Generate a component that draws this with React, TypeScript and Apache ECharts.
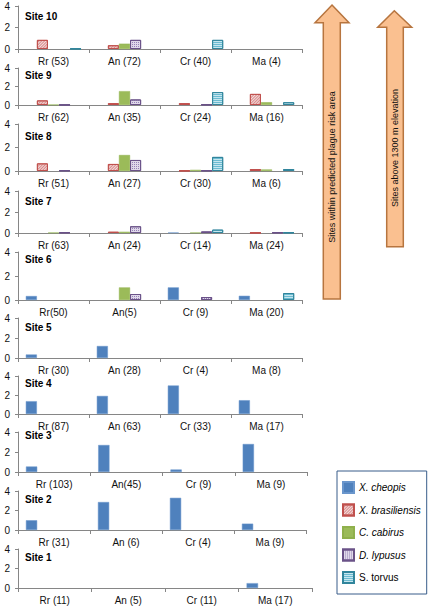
import React, { useEffect, useRef } from "react";
import * as echarts from "echarts";

// ---- data ----
const siteNames = ["Site 10", "Site 9", "Site 8", "Site 7", "Site 6", "Site 5", "Site 4", "Site 3", "Site 2", "Site 1"];
const siteCategories: string[][] = [
  ["Rr (53)", "An (72)", "Cr (40)", "Ma (4)"],
  ["Rr (62)", "An (35)", "Cr (24)", "Ma (16)"],
  ["Rr (51)", "An (27)", "Cr (30)", "Ma (6)"],
  ["Rr (63)", "An (24)", "Cr (14)", "Ma (24)"],
  ["Rr(50)", "An(5)", "Cr (9)", "Ma (20)"],
  ["Rr (30)", "An (28)", "Cr (4)", "Ma (8)"],
  ["Rr (87)", "An (63)", "Cr (33)", "Ma (17)"],
  ["Rr (103)", "An(45)", "Cr (9)", "Ma (9)"],
  ["Rr (31)", "An (6)", "Cr (4)", "Ma (9)"],
  ["Rr (11)", "An (5)", "Cr (11)", "Ma (17)"],
];
const speciesNames = ["X. cheopis", "X. brasiliensis", "C. cabirus", "D. lypusus", "S. torvus"];
// values per site (Site 10 .. Site 1), each [Rr, An, Cr, Ma]
const xCheopis: number[][] = [
  [0, 0, 0, 0], [0, 0, 0, 0], [0, 0, 0, 0], [0, 0, 0.05, 0], [0.33, 0, 1.05, 0.35],
  [0.35, 1.2, 0, 0], [1.35, 1.9, 3.0, 1.45], [0.55, 2.7, 0.25, 2.8], [1.0, 2.87, 3.3, 0.65], [0, 0, 0, 0.5],
];
const xBrasiliensis: number[][] = [
  [0.85, 0.35, 0, 0], [0.5, 0.2, 0.2, 1.2], [0.65, 0.6, 0.03, 0.17], [0, 0.12, 0, 0.02], [0, 0, 0, 0],
  [0, 0, 0, 0], [0, 0, 0, 0], [0, 0, 0, 0], [0, 0, 0, 0], [0, 0, 0, 0],
];
const cCabirus: number[][] = [
  [0, 0.5, 0, 0], [0.03, 1.5, 0, 0.3], [0, 1.36, 0.1, 0.13], [0.03, 0.12, 0.03, 0], [0, 1.05, 0, 0],
  [0, 0, 0, 0], [0, 0, 0, 0], [0, 0, 0, 0], [0, 0, 0, 0], [0, 0, 0, 0],
];
const dLypusus: number[][] = [
  [0, 0.85, 0, 0], [0.02, 0.6, 0.05, 0], [0.05, 0.94, 0.05, 0], [0.05, 0.64, 0.15, 0.05], [0, 0.5, 0.25, 0],
  [0, 0, 0, 0], [0, 0, 0, 0], [0, 0, 0, 0], [0, 0, 0, 0], [0, 0, 0, 0],
];
const sTorvus: number[][] = [
  [0.03, 0, 0.85, 0], [0, 0, 1.4, 0.3], [0, 0, 1.2, 0.17], [0, 0, 0.32, 0.05], [0, 0, 0, 0.58],
  [0, 0, 0, 0], [0, 0, 0, 0], [0, 0, 0, 0], [0, 0, 0, 0], [0, 0, 0, 0],
];
const yTicks = [0, 2, 4];
const arrowTexts = ["Sites within predicted plague risk area", "Sites above 1300 m elevation"];

// ---- layout ----
const panelTop = [6, 68, 124, 191, 252, 318, 376, 432, 491, 549];
const panelBottom = [49, 105, 171, 233, 300, 358, 414, 472, 530, 588];
const panelRight = [302, 302, 302, 302, 302, 302, 302, 307, 306, 312];
const titleY = [16, 75, 136, 201, 259, 327, 383, 435, 499, 557];

const FONT = "'Liberation Sans', Arial, sans-serif";

const speciesStyles: any[] = [
  { color: "#4f81bd", borderColor: "#6a96cc", borderWidth: 0.5 },
  {
    color: "#f2dcdb",
    borderColor: "#c0504d",
    borderWidth: 1,
    decal: { symbol: "rect", color: "#d9898a", dashArrayX: [1, 0], dashArrayY: [1, 1], rotation: -Math.PI / 4, symbolSize: 1 },
  },
  { color: "#9bbb59", borderColor: "#8fb04c", borderWidth: 0.5 },
  {
    color: "#e0d9ea",
    borderColor: "#6a5288",
    borderWidth: 1,
    decal: { symbol: "rect", color: "#9682b6", dashArrayX: [1, 1], dashArrayY: [1, 1], symbolSize: 1 },
  },
  {
    color: "#c6e6ef",
    borderColor: "#31859c",
    borderWidth: 1,
    decal: { symbol: "rect", color: "#6cbbd1", dashArrayX: [1, 0], dashArrayY: [1, 1], symbolSize: 1 },
  },
];

export default function App() {
  const ref = useRef<HTMLDivElement>(null);
  useEffect(() => {
    if (!ref.current) return;
    const chart = echarts.init(ref.current, null, { renderer: "svg" });
    const speciesData = [xCheopis, xBrasiliensis, cCabirus, dLypusus, sTorvus];

    const grids = siteNames.map((_, i) => ({
      left: 18,
      top: panelTop[i],
      height: panelBottom[i] - panelTop[i],
      width: panelRight[i] - 18,
    }));
    const xAxes = siteNames.map((_, i) => ({
      type: "category",
      gridIndex: i,
      data: siteCategories[i],
      axisLine: { lineStyle: { color: "#868686", width: 1 } },
      axisTick: { show: true, length: 4, lineStyle: { color: "#868686" } },
      axisLabel: { interval: 0, margin: 7, fontSize: 10, color: "#111", fontFamily: FONT },
    }));
    const yAxes = siteNames.map((_, i) => ({
      type: "value",
      gridIndex: i,
      min: yTicks[0],
      max: yTicks[yTicks.length - 1],
      interval: yTicks[1] - yTicks[0],
      splitLine: { show: false },
      axisLine: { show: true, lineStyle: { color: "#868686", width: 1 } },
      axisTick: { show: true, length: 3, lineStyle: { color: "#868686" } },
      axisLabel: { margin: 8, fontSize: 10, color: "#111", fontFamily: FONT },
    }));
    const series: any[] = [];
    siteNames.forEach((_, i) => {
      speciesNames.forEach((name, k) => {
        series.push({
          type: "bar",
          name,
          xAxisIndex: i,
          yAxisIndex: i,
          barGap: "0%",
          barCategoryGap: "22%",
          itemStyle: speciesStyles[k],
          data: speciesData[k][i].map((v) => (v === 0 ? null : v)),
        });
      });
    });

    const arrow = (pts: number[][]) => ({
      type: "polygon",
      shape: { points: pts },
      style: { fill: "#fac090", stroke: "#b7753f", lineWidth: 1.5 },
    });

    const graphics: any[] = [
      arrow([[332, 5], [349, 22.7], [340.3, 22.7], [340.3, 299], [323.3, 299], [323.3, 22.7], [315, 22.7]]),
      arrow([[394.3, 10.7], [411.7, 27.3], [403.3, 27.3], [403.3, 246.7], [386.7, 246.7], [386.7, 27.3], [377.7, 27.3]]),
      {
        type: "text",
        x: 332,
        y: 167,
        rotation: Math.PI / 2,
        style: { text: arrowTexts[0], fill: "#111", font: `9px ${FONT}`, align: "center", verticalAlign: "middle" },
      },
      {
        type: "text",
        x: 395,
        y: 148,
        rotation: Math.PI / 2,
        style: { text: arrowTexts[1], fill: "#111", font: `9px ${FONT}`, align: "center", verticalAlign: "middle" },
      },
      ...siteNames.map((s, i) => ({
        type: "text",
        x: 25,
        y: titleY[i],
        style: { text: s, fill: "#000", font: `bold 10px ${FONT}`, verticalAlign: "middle" },
      })),
    ];

    chart.setOption({
      animation: false,
      backgroundColor: "#ffffff",
      grid: grids,
      xAxis: xAxes,
      yAxis: yAxes,
      series,
      legend: {
        orient: "vertical",
        left: 337,
        top: 471,
        itemWidth: 11,
        itemHeight: 11,
        itemGap: 9.5,
        padding: [10, 6, 10, 5],
        borderColor: "#385d8a",
        borderWidth: 1,
        icon: "rect",
        textStyle: { fontSize: 10, color: "#000", fontFamily: FONT },
        data: speciesNames.map((n, k) => ({
          name: n,
          textStyle: { fontStyle: k < 4 ? "italic" : "normal" },
        })),
      },
      graphic: graphics,
    });
    return () => chart.dispose();
  }, []);
  return <div ref={ref} style={{ position: "absolute", left: 0, top: 0, width: 430, height: 609 }} />;
}
